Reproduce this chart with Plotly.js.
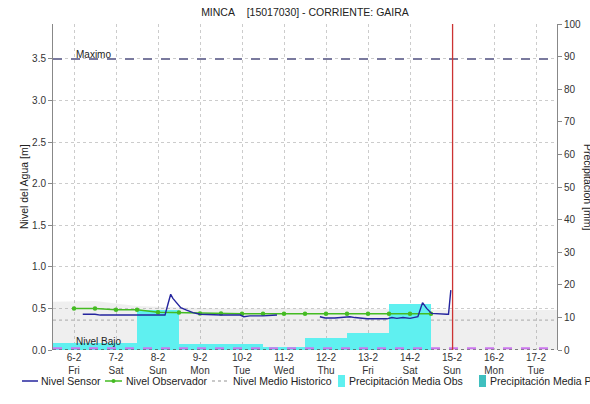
<!DOCTYPE html>
<html><head><meta charset="utf-8">
<script src="https://cdn.plot.ly/plotly-3.0.1.min.js"></script>
<style>html,body{margin:0;padding:0;background:#fff}</style>
</head><body><div id="chart" style="width:590px;height:404px"></div>
<script>
// ---------- data ----------
const dayTicks = ['2026-02-06','2026-02-07','2026-02-08','2026-02-09','2026-02-10','2026-02-11',
                  '2026-02-12','2026-02-13','2026-02-14','2026-02-15','2026-02-16','2026-02-17'];
const dayLabels = ['6-2<br>Fri','7-2<br>Sat','8-2<br>Sun','9-2<br>Mon','10-2<br>Tue','11-2<br>Wed',
                   '12-2<br>Thu','13-2<br>Fri','14-2<br>Sat','15-2<br>Sun','16-2<br>Mon','17-2<br>Tue'];

const sensorTime = ['2026-02-06 05:00','2026-02-06 12:00','2026-02-06 15:00','2026-02-07 00:00','2026-02-08 00:00',
  '2026-02-08 04:00','2026-02-08 05:40','2026-02-08 07:15','2026-02-08 08:30','2026-02-08 10:40','2026-02-08 13:00',
  '2026-02-08 16:20','2026-02-08 20:00','2026-02-09 00:00','2026-02-09 12:00','2026-02-09 23:00','2026-02-10 01:00',
  '2026-02-10 04:30','2026-02-10 12:00','2026-02-10 20:00','2026-02-11 00:00',
  '2026-02-11 20:30','2026-02-11 23:30','2026-02-12 05:00','2026-02-12 08:00','2026-02-12 13:40','2026-02-12 16:30',
  '2026-02-12 23:30','2026-02-13 10:50','2026-02-13 13:40','2026-02-13 16:30','2026-02-13 20:00','2026-02-14 00:00',
  '2026-02-14 04:30','2026-02-14 07:10','2026-02-14 09:30','2026-02-14 12:20','2026-02-14 17:00','2026-02-14 21:00',
  '2026-02-14 22:00','2026-02-14 23:20'];
const sensorLevel = [0.43,0.43,0.42,0.42,0.42,
  0.42,0.55,0.67,0.62,0.56,0.51,
  0.48,0.45,0.43,0.42,0.42,0.40,
  0.41,0.41,0.42,null,
  0.40,0.385,0.385,0.39,0.40,0.39,
  0.375,0.375,0.39,0.38,0.39,0.38,
  0.40,0.57,0.50,0.44,0.43,0.43,
  0.43,0.72];

const observerTime = ['2026-02-06 00:00','2026-02-06 12:00','2026-02-07 00:00','2026-02-07 12:00','2026-02-08 00:00',
  '2026-02-08 12:00','2026-02-09 00:00','2026-02-09 12:00','2026-02-10 00:00','2026-02-10 12:00','2026-02-11 00:00',
  '2026-02-11 12:00','2026-02-12 00:00','2026-02-12 12:00','2026-02-13 00:00','2026-02-13 12:00','2026-02-14 00:00',
  '2026-02-14 12:00'];
const observerLevel = [0.50,0.50,0.485,0.485,0.455,0.45,0.44,0.44,0.435,0.435,0.435,0.435,0.435,0.435,0.435,0.435,0.435,0.435];

const historicTime = ['2026-02-05 12:00','2026-02-17 12:00'];
const historicLevel = [0.36,0.36];

const bandTime = ['2026-02-05 12:00','2026-02-06 12:00','2026-02-07 00:00','2026-02-07 12:00','2026-02-08 12:00',
  '2026-02-09 12:00','2026-02-10 12:00','2026-02-11 12:00','2026-02-12 12:00','2026-02-13 12:00','2026-02-14 12:00',
  '2026-02-15 12:00','2026-02-16 12:00','2026-02-17 12:00'];
const bandLevel = [0.58,0.59,0.56,0.53,0.51,0.50,0.50,0.50,0.49,0.49,0.48,0.48,0.48,0.48];

const precipDays = ['2026-02-06','2026-02-07','2026-02-08','2026-02-09','2026-02-10','2026-02-11',
                    '2026-02-12','2026-02-13','2026-02-14'];
const precipObs = [2.2,2.2,12.3,1.8,1.8,0.8,3.6,5.3,14.0];

const nivelMaximo = 3.5;
const nivelBajo = 0.02;
const currentTime = '2026-02-15 00:20';
const xRange = ['2026-02-05 12:00','2026-02-17 12:00'];

const seriesNames = ['Nivel Sensor','Nivel Observador','Nivel Medio Historico','Precipitación Media Obs','Precipitación Media Pro'];

// ---------- styling ----------
const FONT = 'Liberation Sans, Arial, sans-serif';
const C_SENSOR = '#25259e', C_OBS = '#44bb22', C_HIST = '#b8b8b8', C_OBSP = '#5ff0f0', C_PROP = '#3fbfbf';

const traces = [
  {x: bandTime, y: bandLevel, type:'scatter', mode:'lines', fill:'tozeroy',
   fillcolor:'rgba(128,128,128,0.13)', line:{width:0}, yaxis:'y', hoverinfo:'skip', showlegend:false},
  {x: historicTime, y: historicLevel, type:'scatter', mode:'lines', name: seriesNames[2],
   line:{color:C_HIST, width:1.3, dash:'dot'}, yaxis:'y', showlegend:false},
  {x: precipDays, y: precipObs, type:'bar', name: seriesNames[3], width: 86400000,
   marker:{color:C_OBSP, line:{width:0}}, yaxis:'y2', showlegend:false},
  {x: observerTime, y: observerLevel, type:'scatter', mode:'lines+markers', name: seriesNames[1],
   line:{color:C_OBS, width:1.5}, marker:{color:C_OBS, size:4.5}, yaxis:'y3', showlegend:false},
  {x: sensorTime, y: sensorLevel, type:'scatter', mode:'lines', name: seriesNames[0],
   line:{color:C_SENSOR, width:1.4}, connectgaps:false, yaxis:'y3', showlegend:false}
];

const L = 53, R = 557, T = 24, B = 350;
const px = v => (v - L) / (R - L);
const py = v => (B - v) / (B - T);

const legY = py(381);
const shapes = [
  {type:'line', xref:'x', yref:'y', x0:xRange[0], x1:xRange[1], y0:0, y1:0, line:{color:'#555', width:1.5, dash:'dot'}},
  {type:'line', xref:'x', yref:'y', x0:xRange[0], x1:xRange[1], y0:nivelMaximo, y1:nivelMaximo, line:{color:'#7a7a9e', width:2, dash:'dash'}},
  {type:'line', xref:'x', yref:'y', x0:xRange[0], x1:xRange[1], y0:nivelBajo, y1:nivelBajo, line:{color:'#cc77ee', width:2, dash:'dash'}},
  {type:'line', xref:'x', yref:'paper', x0:currentTime, x1:currentTime, y0:0, y1:1, line:{color:'#cc3333', width:1.3}},
  // legend samples
  {type:'line', xref:'paper', yref:'paper', x0:px(22), x1:px(38), y0:legY, y1:legY, line:{color:C_SENSOR, width:1.5}},
  {type:'line', xref:'paper', yref:'paper', x0:px(105), x1:px(122), y0:legY, y1:legY, line:{color:C_OBS, width:1.5}},
  {type:'circle', xref:'paper', yref:'paper', x0:px(111.5), x1:px(115.5), y0:py(383), y1:py(379), fillcolor:C_OBS, line:{width:0}},
  {type:'line', xref:'paper', yref:'paper', x0:px(212), x1:px(228), y0:legY, y1:legY, line:{color:C_HIST, width:1.3, dash:'dot'}},
  {type:'rect', xref:'paper', yref:'paper', x0:px(338), x1:px(345), y0:py(387), y1:py(375), fillcolor:C_OBSP, line:{width:0}},
  {type:'rect', xref:'paper', yref:'paper', x0:px(479), x1:px(486), y0:py(387), y1:py(375), fillcolor:C_PROP, line:{width:0}}
];

const legTextX = [39, 124, 231, 347, 488];
const annotations = seriesNames.map((n, i) => ({
  text: n, xref:'paper', yref:'paper', x: px(legTextX[i]), y: legY, xanchor:'left', yanchor:'middle',
  showarrow:false, font:{family:FONT, size:10.5, color:'#222'}
}));
annotations.push(
  {text:'Maximo', xref:'x', yref:'y', x:dayTicks[0], y:nivelMaximo, xanchor:'left', yanchor:'bottom', yshift:-3,
   showarrow:false, font:{family:FONT, size:10, color:'#222'}},
  {text:'Nivel Bajo', xref:'x', yref:'y', x:dayTicks[0], y:nivelBajo, xanchor:'left', yanchor:'bottom', yshift:-1,
   showarrow:false, font:{family:FONT, size:10, color:'#222'}},
  {text:'Nivel del Agua [m]', xref:'paper', yref:'paper', x:px(24), y:0.5, xanchor:'center', yanchor:'middle',
   textangle:-90, showarrow:false, font:{family:FONT, size:10.5, color:'#222'}},
  {text:'Precipitación [mm]', xref:'paper', yref:'paper', x:px(588), y:0.5, xanchor:'center', yanchor:'middle',
   textangle:90, showarrow:false, font:{family:FONT, size:10.5, color:'#222'}}
);

const yLevelRange = [0, 3.92];
const layout = {
  width:590, height:404, autosize:false,
  margin:{l:L, r:590-R, t:T, b:404-B, pad:0},
  paper_bgcolor:'#fff', plot_bgcolor:'#fff',
  font:{family:FONT, size:10, color:'#333'},
  title:{text:'MINCA&nbsp;&nbsp;&nbsp;&nbsp;[15017030] - CORRIENTE: GAIRA', font:{family:FONT, size:10.5, color:'#222'},
         x:0.5, xref:'paper', xanchor:'center', y:1-12/404, yref:'container', yanchor:'middle'},
  showlegend:false,
  bargap:0,
  xaxis:{type:'date', range:xRange, tickvals:dayTicks, ticktext:dayLabels, showgrid:true, gridcolor:'#cccccc',
         griddash:'dot', gridwidth:1, zeroline:false, showline:false, ticks:'', tickfont:{size:10, color:'#333'}},
  yaxis:{range:yLevelRange, tickvals:[0,0.5,1,1.5,2,2.5,3,3.5], tickformat:'.1f', showgrid:true, gridcolor:'#cccccc',
         griddash:'dot', zeroline:false, showline:true, linecolor:'#888', linewidth:1, ticks:'outside', ticklen:4,
         tickcolor:'#888', tickfont:{size:10, color:'#333'}},
  yaxis2:{range:[0,100], dtick:10, overlaying:'y', side:'right', showgrid:false, zeroline:false, showline:true,
          linecolor:'#888', linewidth:1, ticks:'outside', ticklen:4, tickcolor:'#888', tickfont:{size:10, color:'#333'}},
  yaxis3:{range:yLevelRange, overlaying:'y', visible:false},
  shapes: shapes,
  annotations: annotations
};

Plotly.newPlot('chart', traces, layout, {staticPlot:true, displayModeBar:false});
</script></body></html>
